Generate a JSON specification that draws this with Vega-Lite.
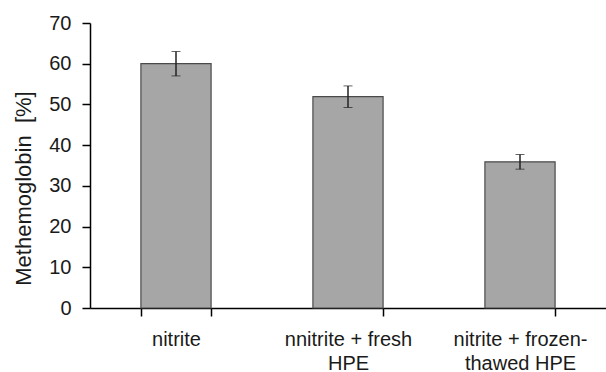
{
  "$schema": "https://vega.github.io/schema/vega-lite/v6.json",
  "autosize": "none",
  "width": 516,
  "height": 285,
  "padding": {"left": 90, "top": 23, "right": 0, "bottom": 64},
  "background": "white",
  "config": {
    "view": {"stroke": null},
    "font": "Liberation Sans",
    "axis": {"grid": false, "domainColor": "#000000", "tickColor": "#000000", "domainWidth": 1.5, "tickWidth": 1.5, "labelColor": "#1a1a1a", "titleColor": "#1a1a1a", "labelFont": "Liberation Sans", "titleFont": "Liberation Sans"}
  },
  "data": {
    "values": [
      {"group": "nitrite", "mean": 60, "sd": 3.0},
      {"group": "nnitrite + fresh|HPE", "mean": 51.9, "sd": 2.65},
      {"group": "nitrite + frozen-|thawed HPE", "mean": 35.9, "sd": 1.8}
    ]
  },
  "encoding": {
    "x": {
      "field": "group", "type": "nominal", "sort": null,
      "scale": {"paddingInner": 0.592, "paddingOuter": 0.296},
      "axis": {"title": null, "labelAngle": 0, "labelExpr": "datum.value ? split(datum.value, '|') : ''", "labelFontSize": 20, "labelLineHeight": 24, "labelPadding": 13, "tickBand": "extent", "tickSize": 8, "labelBaseline": "top"}
    },
    "y": {"field": "mean", "type": "quantitative", "scale": {"domain": [0, 70]},
      "axis": {"title": "Methemoglobin\u00a0 [%]", "titleFontSize": 22, "titleFontWeight": "normal", "titleAngle": -90, "titleBaseline": "middle", "titleAlign": "center", "titleAnchor": null, "titleX": -67, "titleY": 165, "labelFontSize": 20, "values": [0,10,20,30,40,50,60,70], "tickSize": 8, "labelPadding": 11}}
  },
  "layer": [
    {
      "mark": {"type": "bar", "fill": "#a6a6a6", "stroke": "#4a4a4a", "strokeWidth": 1.2}
    },
    {
      "mark": {"type": "errorbar", "ticks": {"size": 9, "color": "#222222", "strokeWidth": 1.5}, "rule": {"color": "#222222", "strokeWidth": 1.5}},
      "encoding": {
        "y": {"field": "mean", "type": "quantitative", "title": "Methemoglobin\u00a0 [%]"},
        "yError": {"field": "sd"}
      }
    }
  ]
}
